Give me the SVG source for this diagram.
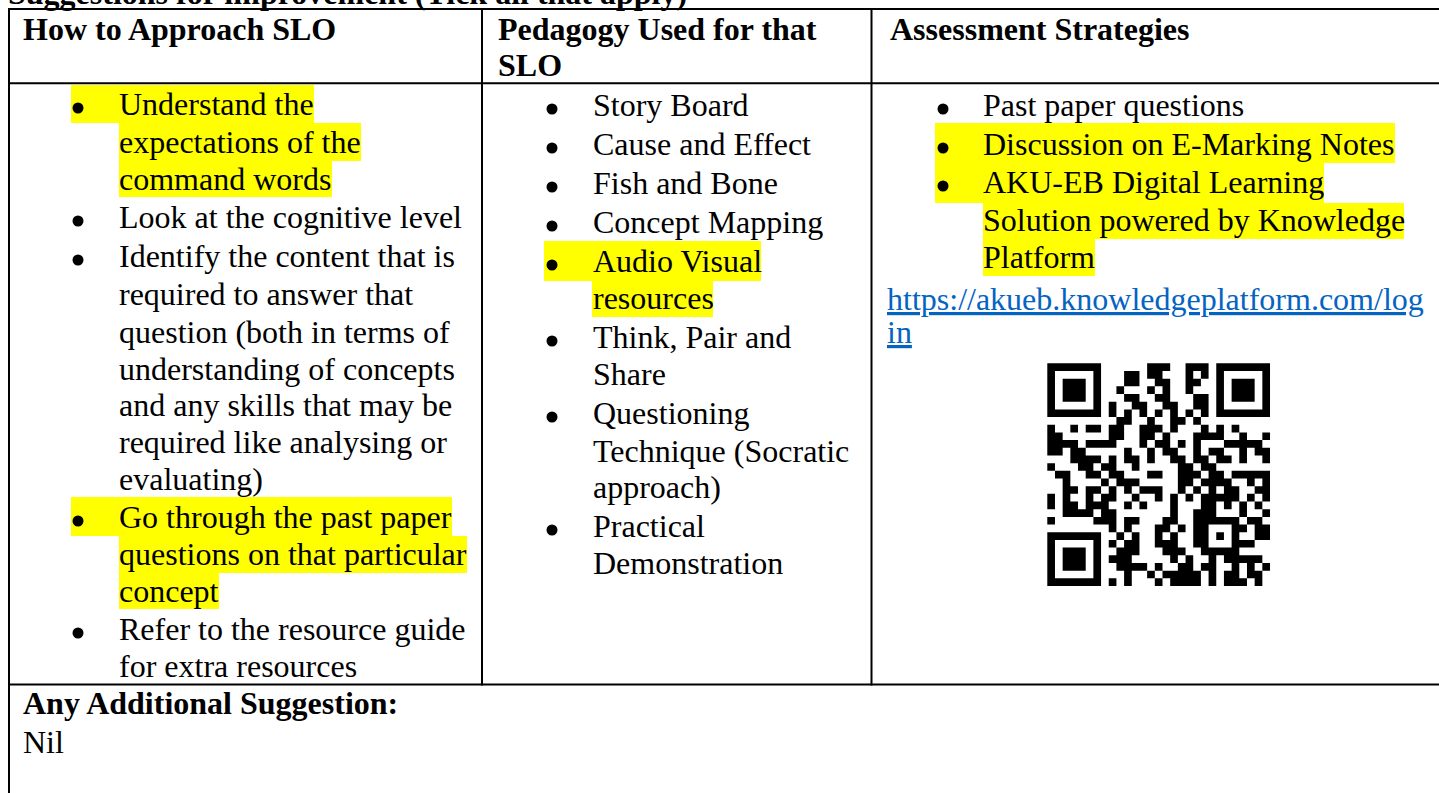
<svg xmlns="http://www.w3.org/2000/svg" width="1439" height="793" viewBox="0 0 1439 793">
  <style>
    .t { font-family: "Liberation Serif", "Times New Roman", serif; font-size: 32px; fill: #000; }
    .b { font-weight: bold; }
    .link { fill: #0563C1; text-decoration: underline; }
    .hl { fill: #FFFF00; }
    .rule { stroke: #000; stroke-width: 2; fill: none; }
    .dot { fill: #000; }
    .qr { fill: #000; }
  </style>

  <rect width="1439" height="793" fill="#fff"/>

  <!-- section heading, clipped at the top of the page -->
  <g id="title">
    <text class="t b" x="8" y="4">Suggestions for improvement (Tick all that apply)</text>
  </g>

  <!-- text highlighting (drawn under the text) -->
  <g id="highlights">
    <rect class="hl" x="71" y="85" width="243" height="38"/>
    <rect class="hl" x="119" y="123" width="242" height="38"/>
    <rect class="hl" x="119" y="161" width="213" height="36"/>
    <rect class="hl" x="71" y="497" width="381" height="39"/>
    <rect class="hl" x="119" y="536" width="348" height="37"/>
    <rect class="hl" x="119" y="573" width="100" height="36"/>
    <rect class="hl" x="544" y="241" width="217" height="40"/>
    <rect class="hl" x="592" y="281" width="121" height="36"/>
    <rect class="hl" x="935" y="123" width="460" height="40"/>
    <rect class="hl" x="935" y="163" width="389" height="40"/>
    <rect class="hl" x="983" y="203" width="421" height="36"/>
    <rect class="hl" x="983" y="239" width="112" height="37"/>
  </g>

  <!-- table rules -->
  <g id="grid">
    <line class="rule" x1="8" y1="9" x2="1439" y2="9"/>
    <line class="rule" x1="8" y1="83.3" x2="1439" y2="83.3"/>
    <line class="rule" x1="8" y1="684.5" x2="1439" y2="684.5"/>
    <line class="rule" x1="9" y1="8" x2="9" y2="793"/>
    <line class="rule" x1="482" y1="8" x2="482" y2="685.5"/>
    <line class="rule" x1="871.5" y1="8" x2="871.5" y2="685.5"/>
  </g>

  <!-- header row -->
  <g id="header">
    <text class="t b" x="23" y="40">How to Approach SLO</text>
    <text class="t b" x="498" y="40">Pedagogy Used for that</text>
    <text class="t b" x="498" y="76">SLO</text>
    <text class="t b" x="890" y="40">Assessment Strategies</text>
  </g>

  <!-- column 1: how to approach the SLO -->
  <g id="approach">
    <circle class="dot" cx="78" cy="108" r="5.5"/>
    <circle class="dot" cx="78" cy="221" r="5.5"/>
    <circle class="dot" cx="78" cy="260" r="5.5"/>
    <circle class="dot" cx="78" cy="521" r="5.5"/>
    <circle class="dot" cx="78" cy="633" r="5.5"/>
    <text class="t" x="119" y="115">Understand the</text>
    <text class="t" x="119" y="153">expectations of the</text>
    <text class="t" x="119" y="190">command words</text>
    <text class="t" x="119" y="228">Look at the cognitive level</text>
    <text class="t" x="119" y="267">Identify the content that is</text>
    <text class="t" x="119" y="305">required to answer that</text>
    <text class="t" x="119" y="343">question (both in terms of</text>
    <text class="t" x="119" y="380">understanding of concepts</text>
    <text class="t" x="119" y="416">and any skills that may be</text>
    <text class="t" x="119" y="453">required like analysing or</text>
    <text class="t" x="119" y="490">evaluating)</text>
    <text class="t" x="119" y="528">Go through the past paper</text>
    <text class="t" x="119" y="565">questions on that particular</text>
    <text class="t" x="119" y="602">concept</text>
    <text class="t" x="119" y="640">Refer to the resource guide</text>
    <text class="t" x="119" y="677">for extra resources</text>
  </g>

  <!-- column 2: pedagogy -->
  <g id="pedagogy">
    <circle class="dot" cx="552" cy="109" r="5.5"/>
    <circle class="dot" cx="552" cy="148" r="5.5"/>
    <circle class="dot" cx="552" cy="187" r="5.5"/>
    <circle class="dot" cx="552" cy="226" r="5.5"/>
    <circle class="dot" cx="552" cy="265" r="5.5"/>
    <circle class="dot" cx="552" cy="341" r="5.5"/>
    <circle class="dot" cx="552" cy="417" r="5.5"/>
    <circle class="dot" cx="552" cy="530" r="5.5"/>
    <text class="t" x="593" y="116">Story Board</text>
    <text class="t" x="593" y="155">Cause and Effect</text>
    <text class="t" x="593" y="194">Fish and Bone</text>
    <text class="t" x="593" y="233">Concept Mapping</text>
    <text class="t" x="593" y="272">Audio Visual</text>
    <text class="t" x="593" y="309">resources</text>
    <text class="t" x="593" y="348">Think, Pair and</text>
    <text class="t" x="593" y="385">Share</text>
    <text class="t" x="593" y="424">Questioning</text>
    <text class="t" x="593" y="462">Technique (Socratic</text>
    <text class="t" x="593" y="498">approach)</text>
    <text class="t" x="593" y="537">Practical</text>
    <text class="t" x="593" y="574">Demonstration</text>
  </g>

  <!-- column 3: assessment strategies -->
  <g id="assessment">
    <circle class="dot" cx="943" cy="109" r="5.5"/>
    <circle class="dot" cx="943" cy="148" r="5.5"/>
    <circle class="dot" cx="943" cy="186" r="5.5"/>
    <text class="t" x="983" y="116">Past paper questions</text>
    <text class="t" x="983" y="155">Discussion on E-Marking Notes</text>
    <text class="t" x="983" y="193">AKU-EB Digital Learning</text>
    <text class="t" x="983" y="231">Solution powered by Knowledge</text>
    <text class="t" x="983" y="268">Platform</text>
    <text class="t link" x="887" y="310">https://akueb.knowledgeplatform.com/log</text>
    <text class="t link" x="887" y="343">in</text>
  </g>

  <!-- QR code, 29 x 29 modules -->
  <g id="qr-code" transform="translate(1047.3 363.3) scale(7.68)">
    <path class="qr" fill-rule="evenodd" d="M0 0h7v7h-7zM1 1h5v5h-5zM2 2h3v3h-3z M22 0h7v7h-7zM23 1h5v5h-5zM24 2h3v3h-3z M0 22h7v7h-7zM1 23h5v5h-5zM2 24h3v3h-3z"/>
    <path class="qr" d="
      M13 0h3v1h-3zM18 0h3v1h-3z
      M10 1h2v1h-2zM13 1h2v1h-2zM18 1h1v1h-1zM20 1h1v1h-1z
      M10 2h2v1h-2zM14 2h2v1h-2zM18 2h2v1h-2z
      M9 3h1v1h-1zM13 3h1v1h-1zM15 3h1v1h-1zM18 3h1v1h-1z
      M10 4h2v1h-2zM14 4h2v1h-2zM19 4h2v1h-2z
      M8 5h1v1h-1zM11 5h2v1h-2zM15 5h2v1h-2zM19 5h2v1h-2z
      M8 6h1v1h-1zM10 6h1v1h-1zM12 6h1v1h-1zM14 6h1v1h-1zM16 6h1v1h-1zM18 6h1v1h-1zM20 6h1v1h-1z
      M9 7h2v1h-2zM13 7h1v1h-1zM16 7h2v1h-2zM19 7h1v1h-1z
      M0 8h1v1h-1zM3 8h1v1h-1zM5 8h2v1h-2zM8 8h2v1h-2zM12 8h3v1h-3zM16 8h1v1h-1zM20 8h1v1h-1zM22 8h1v1h-1zM24 8h1v1h-1z
      M0 9h2v1h-2zM8 9h2v1h-2zM12 9h2v1h-2zM15 9h1v1h-1zM19 9h4v1h-4zM25 9h1v1h-1zM28 9h1v1h-1z
      M0 10h4v1h-4zM5 10h4v1h-4zM12 10h1v1h-1zM14 10h2v1h-2zM17 10h1v1h-1zM19 10h1v1h-1zM23 10h5v1h-5z
      M0 11h2v1h-2zM3 11h2v1h-2zM10 11h1v1h-1zM13 11h1v1h-1zM15 11h2v1h-2zM19 11h1v1h-1zM21 11h2v1h-2zM25 11h1v1h-1zM27 11h2v1h-2z
      M3 12h4v1h-4zM8 12h1v1h-1zM10 12h2v1h-2zM13 12h1v1h-1zM16 12h2v1h-2zM19 12h2v1h-2zM22 12h2v1h-2zM25 12h1v1h-1zM28 12h1v1h-1z
      M0 13h1v1h-1zM4 13h2v1h-2zM7 13h2v1h-2zM11 13h1v1h-1zM17 13h2v1h-2zM20 13h2v1h-2z
      M1 14h2v1h-2zM5 14h2v1h-2zM8 14h2v1h-2zM13 14h2v1h-2zM17 14h3v1h-3zM21 14h2v1h-2zM24 14h5v1h-5z
      M2 15h1v1h-1zM7 15h1v1h-1zM9 15h3v1h-3zM17 15h2v1h-2zM20 15h4v1h-4zM26 15h1v1h-1zM28 15h1v1h-1z
      M2 16h2v1h-2zM5 16h2v1h-2zM8 16h1v1h-1zM10 16h1v1h-1zM12 16h3v1h-3zM17 16h1v1h-1zM19 16h1v1h-1zM21 16h1v1h-1zM23 16h2v1h-2zM27 16h2v1h-2z
      M0 17h1v1h-1zM2 17h1v1h-1zM5 17h1v1h-1zM7 17h2v1h-2zM11 17h1v1h-1zM14 17h1v1h-1zM16 17h1v1h-1zM18 17h1v1h-1zM20 17h5v1h-5zM26 17h1v1h-1zM28 17h1v1h-1z
      M0 18h1v1h-1zM2 18h2v1h-2zM5 18h3v1h-3zM10 18h1v1h-1zM12 18h1v1h-1zM16 18h1v1h-1zM20 18h2v1h-2zM23 18h1v1h-1zM25 18h1v1h-1zM27 18h1v1h-1z
      M2 19h4v1h-4zM7 19h2v1h-2zM16 19h1v1h-1zM19 19h3v1h-3zM25 19h1v1h-1zM28 19h1v1h-1z
      M0 20h1v1h-1zM6 20h3v1h-3zM10 20h2v1h-2zM15 20h2v1h-2zM19 20h6v1h-6zM26 20h2v1h-2z
      M8 21h1v1h-1zM10 21h1v1h-1zM14 21h2v1h-2zM17 21h1v1h-1zM19 21h2v1h-2zM24 21h2v1h-2zM27 21h2v1h-2z
      M9 22h1v1h-1zM11 22h1v1h-1zM14 22h1v1h-1zM16 22h1v1h-1zM19 22h2v1h-2zM22 22h1v1h-1zM24 22h1v1h-1zM27 22h2v1h-2z
      M8 23h1v1h-1zM10 23h2v1h-2zM14 23h3v1h-3zM19 23h2v1h-2zM24 23h3v1h-3z
      M9 24h3v1h-3zM15 24h3v1h-3zM20 24h5v1h-5z
      M8 25h3v1h-3zM16 25h1v1h-1zM18 25h1v1h-1zM21 25h1v1h-1zM23 25h5v1h-5z
      M9 26h4v1h-4zM14 26h1v1h-1zM17 26h2v1h-2zM20 26h2v1h-2zM24 26h1v1h-1zM26 26h1v1h-1zM28 26h1v1h-1z
      M10 27h1v1h-1zM13 27h1v1h-1zM15 27h5v1h-5zM21 27h1v1h-1zM23 27h2v1h-2zM26 27h2v1h-2z
      M8 28h1v1h-1zM10 28h1v1h-1zM14 28h1v1h-1zM16 28h4v1h-4zM21 28h1v1h-1zM23 28h3v1h-3zM27 28h1v1h-1z"/>
  </g>

  <!-- bottom row: additional suggestions -->
  <g id="additional">
    <text class="t b" x="23" y="714">Any Additional Suggestion:</text>
    <text class="t" x="23" y="753">Nil</text>
  </g>
</svg>
